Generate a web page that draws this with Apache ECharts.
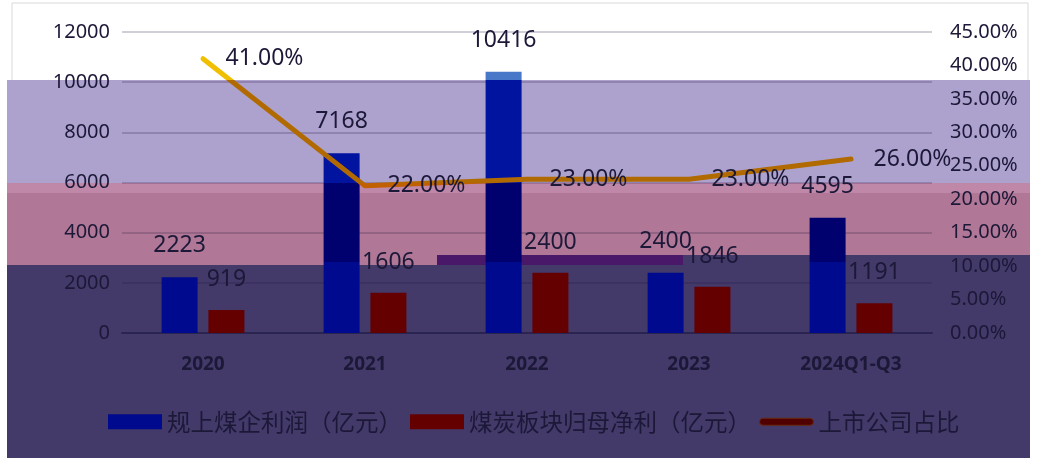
<!DOCTYPE html>
<html>
<head>
<meta charset="utf-8">
<script src="https://cdn.jsdelivr.net/npm/echarts@6/dist/echarts.min.js"></script>
<style>
  html, body { margin: 0; padding: 0; background: #fff; }
  #main { width: 1046px; height: 461px; }
</style>
</head>
<body>
<div id="main"></div>
<script>
// 数据
const years = ["2020", "2021", "2022", "2023", "2024Q1-Q3"];
const coalProfit = [2223, 7168, 10416, 2400, 4595]; // 规上煤企利润（亿元）
const listedProfit = [919, 1606, 2400, 1846, 1191]; // 煤炭板块归母净利（亿元）
const listedShare = [41, 22, 23, 23, 26]; // 上市公司占比 %

const txt = "#1c1838";
const font = "'Noto Sans', 'Noto Sans CJK SC', sans-serif";

const chart = echarts.init(document.getElementById("main"));

// 按画面高度分段的颜色（全局坐标渐变）
const H = 461;
function bands(stops) {
  const cs = [];
  stops.forEach(function (s) {
    cs.push({ offset: s[0] / H, color: s[2] });
    cs.push({ offset: s[1] / H, color: s[2] });
  });
  return new echarts.graphic.LinearGradient(0, 0, 0, H, cs, true);
}
const blueColor = bands([
  [0, 80, "#4a78c8"],
  [80, 183, "#0014a0"],
  [183, 262, "#00006e"],
  [262, 461, "#000a8e"],
]);
const lineColor = bands([
  [0, 80, "#f0c000"],
  [80, 183, "#b06a00"],
  [183, 461, "#c06000"],
]);

const option = {
  backgroundColor: "#ffffff",
  textStyle: { fontFamily: font },
  animation: false,
  graphic: [
    { type: "rect", z: -10, shape: { x: 12, y: 3, width: 1016, height: 452 }, style: { fill: "#fff", stroke: "#d9d9d9", lineWidth: 1 } },
    { type: "rect", z: -9, shape: { x: 7, y: 80, width: 1023, height: 104 }, style: { fill: "#ada1cd" } },
    { type: "rect", z: -9, shape: { x: 7, y: 183, width: 1023, height: 82 }, style: { fill: "#b07896" } },
    { type: "rect", z: -9, shape: { x: 7, y: 183, width: 1023, height: 10 }, style: { fill: "#c088a8" } },
    { type: "rect", z: -9, shape: { x: 7, y: 265, width: 676, height: 193 }, style: { fill: "#433a6a" } },
    { type: "rect", z: -9, shape: { x: 683, y: 255, width: 347, height: 203 }, style: { fill: "#433a6a" } },
    { type: "rect", z: -9, shape: { x: 437, y: 255, width: 246, height: 10 }, style: { fill: "#4a1868" } },
  ],
  grid: { left: 122, right: 114, top: 32, bottom: 128 },
  legend: {
    left: 103,
    top: 405,
    itemWidth: 54,
    itemHeight: 15,
    itemGap: 8,
    textStyle: { fontSize: 23.5, color: txt, fontFamily: "'Noto Sans CJK SC', sans-serif" },
    data: [
      { name: "规上煤企利润（亿元）", icon: "rect", itemStyle: { color: "#000a8e" } },
      { name: "煤炭板块归母净利（亿元）", icon: "rect" },
      {
        name: "上市公司占比",
        icon: "path://M3.5,0 L50.5,0 A3.5,3.5 0 0 1 50.5,7 L3.5,7 A3.5,3.5 0 0 1 3.5,0 Z",
        itemStyle: { color: "#500000", borderColor: "#6a2a10", borderWidth: 1 },
      },
    ],
  },
  xAxis: {
    type: "category",
    data: years,
    axisTick: { show: false },
    axisLine: { lineStyle: { color: "#2a2550", width: 2 } },
    axisLabel: { fontSize: 19, fontWeight: "bold", color: txt, margin: 22 },
  },
  yAxis: [
    {
      type: "value",
      min: 0,
      max: 12000,
      interval: 2000,
      axisLine: { show: false },
      axisTick: { show: false },
      axisLabel: { fontSize: 20, color: txt, margin: 12, formatter: function (v) { return String(v); } },
      splitLine: { lineStyle: { color: "rgba(40,20,70,0.28)", width: 1.5 } },
    },
    {
      type: "value",
      min: 0,
      max: 45,
      interval: 5,
      axisLine: { show: false },
      axisTick: { show: false },
      splitLine: { show: false },
      axisLabel: {
        fontSize: 20,
        color: txt,
        margin: 18,
        formatter: function (v) { return v.toFixed(2) + "%"; },
      },
    },
  ],
  series: [
    {
      name: "规上煤企利润（亿元）",
      type: "bar",
      data: coalProfit,
      barWidth: 36,
      barGap: "30%",
      itemStyle: { color: blueColor },
      label: { show: true, position: "top", distance: 20, fontSize: 23, color: txt },
    },
    {
      name: "煤炭板块归母净利（亿元）",
      type: "bar",
      data: listedProfit,
      barWidth: 36,
      itemStyle: { color: "#640000" },
      label: { show: true, position: "top", distance: 19, fontSize: 23, color: txt },
    },
    {
      name: "上市公司占比",
      type: "line",
      yAxisIndex: 1,
      data: listedShare,
      symbol: "circle",
      symbolSize: 1,
      showSymbol: true,
      z: 5,
      lineStyle: { color: lineColor, width: 5, cap: "round" },
      itemStyle: { color: "rgba(0,0,0,0)" },
      label: {
        show: true,
        position: "right",
        distance: 22,
        fontSize: 23,
        color: txt,
        formatter: function (p) { return p.value.toFixed(2) + "%"; },
      },
    },
  ],
};

option && chart.setOption(option);
</script>
</body>
</html>
